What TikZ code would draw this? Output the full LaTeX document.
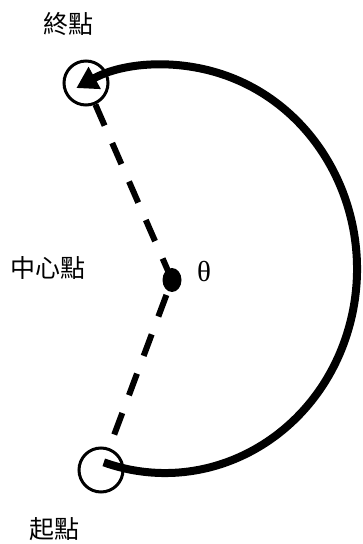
\documentclass[tikz,border=0pt]{standalone}
\usepackage{fontspec}
\newfontfamily\cjk{Noto Sans CJK TC}
\newfontfamily\grk{Liberation Serif}
\usetikzlibrary{arrows.meta,shapes.geometric}
\begin{document}
\begin{tikzpicture}[x=1pt,y=1pt,
  ring/.style={circle,draw,line width=3pt,minimum size=44pt,inner sep=0pt},
  guide/.style={line width=6pt,dash pattern=on 23pt off 19pt},
  cjktext/.style={font=\cjk\fontsize{25}{30}\selectfont,inner sep=0pt},
  sweep/.style={line width=8pt,-{Triangle[length=21pt,width=24pt]}}]
\useasboundingbox (0,0) rectangle (362,544);
\node[ring] (endc) at (86,461) {};
\node[ring] (startc) at (101,74) {};
\coordinate (c) at (165,275);
\coordinate (dotc) at (172,264);
\draw[guide] (endc) -- (dotc);
\draw[guide,dash phase=26pt] (dotc) -- (startc);
\node[ellipse,fill,minimum width=19pt,minimum height=24pt,inner sep=0pt] (dot) at (dotc) {};
\draw[sweep] ([shift={(-108.6:192pt and 204pt)}]c) arc[start angle=-108.6,end angle=117.5,x radius=192pt,y radius=204pt];
\node[cjktext] (tend) at (68,520) {終點};
\node[cjktext] (tctr) at (47.5,276) {中心點};
\node[cjktext] (tstart) at (55,15) {起點};
\node[font=\grk\fontsize{29}{34}\selectfont,inner sep=0pt] (theta) at (204,272) {θ};
\end{tikzpicture}
\end{document}
